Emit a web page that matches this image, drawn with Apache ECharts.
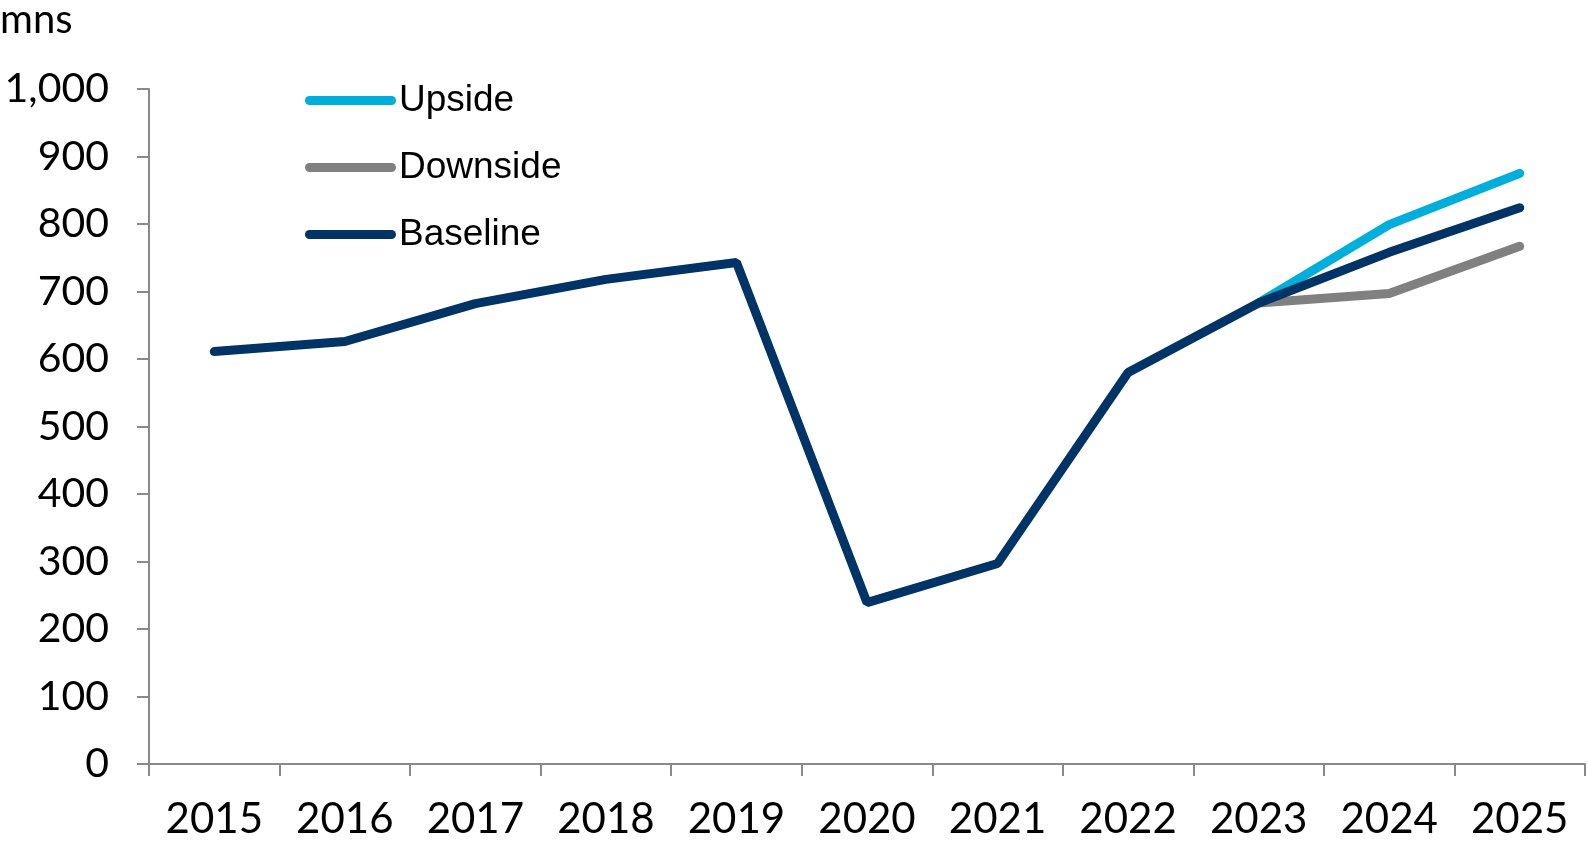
<!DOCTYPE html>
<html>
<head>
<meta charset="utf-8">
<script src="https://cdn.jsdelivr.net/npm/echarts@6/dist/echarts.min.js"></script>
<style>
  html, body { margin: 0; padding: 0; background: #ffffff; }
  #chart { width: 1588px; height: 842px; }
</style>
</head>
<body>
<div id="chart"></div>
<script>
// Years on the category axis
const years = ['2015', '2016', '2017', '2018', '2019', '2020', '2021', '2022', '2023', '2024', '2025'];

// Scenario values, in millions
const baseline = [611, 626, 682, 718, 743, 239, 297, 580, 683, 758, 824];
const upside   = [null, null, null, null, null, null, null, null, 683, 799, 875];
const downside = [null, null, null, null, null, null, null, null, 683, 697, 767];

const yTicks = { min: 0, max: 1000, step: 100 };

const FONT = 'Lato, "Open Sans", sans-serif';
const LEGEND_FONT = '"Liberation Sans", Arial, sans-serif';
const AXIS_GREY = '#898989';

const chart = echarts.init(document.getElementById('chart'), null, { renderer: 'canvas' });

// rounded-end bar used as the legend swatch
const legendIcon = 'path://M4.5,0 L86.5,0 A4.5,4.5 0 0 1 86.5,9 L4.5,9 A4.5,4.5 0 0 1 4.5,0 Z';

function lineSeries(name, data, color, z) {
  return {
    name: name,
    type: 'line',
    data: data,
    symbol: 'none',
    z: z,
    lineStyle: { color: color, width: 9, cap: 'round' },
    itemStyle: { color: color },
    emphasis: { disabled: true },
    animation: false
  };
}

chart.setOption({
  animation: false,
  backgroundColor: '#ffffff',
  textStyle: { fontFamily: FONT },
  grid: { left: 149, right: 3, top: 89, bottom: 78, containLabel: false },
  legend: {
    orient: 'vertical',
    left: 300,
    top: 77,
    itemWidth: 91,
    itemHeight: 9,
    itemGap: 30,
    icon: legendIcon,
    textStyle: { fontFamily: LEGEND_FONT, fontSize: 37, color: '#000000', padding: [0, 0, 0, -2] },
    data: ['Upside', 'Downside', 'Baseline'],
    selectedMode: false
  },
  graphic: [{
    type: 'text',
    left: 0,
    top: 0,
    style: { text: 'mns', font: '40px ' + FONT, fill: '#000000' }
  }],
  xAxis: {
    type: 'category',
    data: years,
    boundaryGap: true,
    axisLine: { lineStyle: { color: AXIS_GREY, width: 2 } },
    axisTick: { show: true, length: 12, lineStyle: { color: AXIS_GREY, width: 2 } },
    axisLabel: { fontSize: 42, color: '#000000', margin: 34, fontFamily: FONT, interval: 0 },
    splitLine: { show: false }
  },
  yAxis: {
    type: 'value',
    min: yTicks.min,
    max: yTicks.max,
    interval: yTicks.step,
    axisLine: { show: true, lineStyle: { color: AXIS_GREY, width: 2 } },
    axisTick: { show: true, length: 12, lineStyle: { color: AXIS_GREY, width: 2 } },
    axisLabel: {
      fontSize: 41, color: '#000000', margin: 40, fontFamily: FONT,
      formatter: v => v.toLocaleString('en-US')
    },
    splitLine: { show: false }
  },
  series: [
    lineSeries('Upside', upside, '#00AEDB', 2),
    lineSeries('Downside', downside, '#808080', 3),
    lineSeries('Baseline', baseline, '#003366', 4)
  ]
});
</script>
</body>
</html>
